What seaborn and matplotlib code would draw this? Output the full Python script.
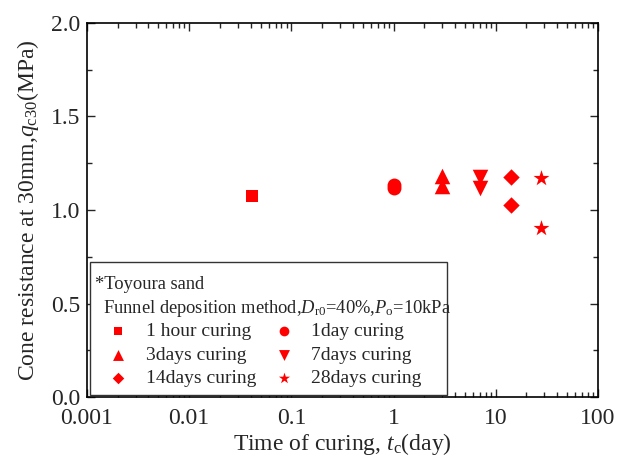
"""
Cone resistance vs. curing time (Toyoura sand).
"""

import matplotlib
matplotlib.use("Agg")
import matplotlib.pyplot as plt
from matplotlib.patches import Rectangle
from matplotlib.ticker import MultipleLocator, LogLocator, NullFormatter
import seaborn as sns
import pandas as pd

# данные
labels = ["1 hour curing", "1day curing", "3days curing",
          "7days curing", "14days curing", "28days curing"]
curing_days = [1 / 24, 1.0, 3.0, 7.0, 14.0, 28.0]
qc30_a = [1.074, 1.120, 1.180, 1.175, 1.175, 1.170]
qc30_b = [None, 1.133, 1.130, 1.117, 1.027, 0.904]
markers = ["s", "o", "^", "v", "D", "*"]
marker_sizes = [85, 100, 125, 125, 70, 145]

xticks = [0.001, 0.01, 0.1, 1, 10, 100]
xtick_labels = ["0.001", "0.01", "0.1", "1", "10", "100"]
yticks = [0.0, 0.5, 1.0, 1.5, 2.0]
ytick_labels = ["0.0", "0.5", "1.0", "1.5", "2.0"]

rows = []
for lab, t, a, b in zip(labels, curing_days, qc30_a, qc30_b):
    rows.append({"label": lab, "t": t, "qc": a})
    if b is not None:
        rows.append({"label": lab, "t": t, "qc": b})
df = pd.DataFrame(rows)

sns.set_style("ticks")
plt.rcParams["font.family"] = ["Liberation Serif", "DejaVu Serif"]
plt.rcParams["mathtext.fontset"] = "custom"
plt.rcParams["mathtext.rm"] = "Liberation Serif"
plt.rcParams["mathtext.it"] = "Liberation Serif:italic"

fig = plt.figure(figsize=(6.28, 4.59), dpi=100)
ax = fig.add_axes([0.1385, 0.135, 0.8135, 0.815])

handles = {}
for lab, m, s in zip(labels, markers, marker_sizes):
    sub = df[df["label"] == lab]
    sns.scatterplot(data=sub, x="t", y="qc", marker=m, s=s, color="red",
                    linewidth=0, ax=ax, label=lab, legend=False)
    handles[lab] = ax.collections[-1]

ax.set_xscale("log")
ax.set_xlim(1e-3, 100)
ax.set_ylim(0, 2.0)
ax.set_xticks(xticks)
ax.set_xticklabels(xtick_labels)
ax.xaxis.set_minor_locator(LogLocator(base=10, subs=range(2, 10), numticks=20))
ax.xaxis.set_minor_formatter(NullFormatter())
ax.set_yticks(yticks)
ax.set_yticklabels(ytick_labels)
ax.yaxis.set_minor_locator(MultipleLocator(0.25))

ax.tick_params(which="both", direction="in", top=True, right=True,
               labelsize=17, width=1)
ax.tick_params(which="major", length=6)
ax.tick_params(which="minor", length=3.5)
ax.tick_params(axis="x", pad=8)
ax.tick_params(axis="y", pad=5)
for sp in ax.spines.values():
    sp.set_linewidth(1.2)
    sp.set_color("black")

ax.set_xlabel("Time of curing, $t_{\\mathrm{c}}$(day)", fontsize=17, labelpad=1)
ax.set_ylabel("Cone resistance at 30mm,$q_{\\mathrm{c30}}$(MPa)", fontsize=17,
              labelpad=7)

# рамка легенды фиксированного размера (как в исходнике, текст может вылезать)
ax.add_patch(Rectangle((0.006, 0.005), 0.6985, 0.356, transform=ax.transAxes,
                       facecolor="white", edgecolor="#333333", linewidth=1.0,
                       zorder=4))
ax.text(0.0157, 0.300, "*Toyoura sand", transform=ax.transAxes,
        fontsize=13.3, va="center", ha="left", zorder=6)
ax.text(0.031, 0.238, "Funnel deposition method,"
        "$D_{\\mathrm{r0}}$=40%,$P_{\\mathrm{o}}$=10kPa",
        transform=ax.transAxes, fontsize=13.3, va="center", ha="left", zorder=6)

# порядок: колонки заполняются сверху вниз
order = [0, 2, 4, 1, 3, 5]
leg = ax.legend([handles[labels[i]] for i in order], [labels[i] for i in order],
                ncol=2, loc="upper left", bbox_to_anchor=(0.031, 0.199),
                borderaxespad=0, borderpad=0, fontsize=14, frameon=False,
                markerscale=0.7, handletextpad=0.65, columnspacing=0.65,
                labelspacing=0.3, handlelength=1.55)
leg.set_zorder(6)

fig.savefig("out.png", dpi=100)
plt.close()
